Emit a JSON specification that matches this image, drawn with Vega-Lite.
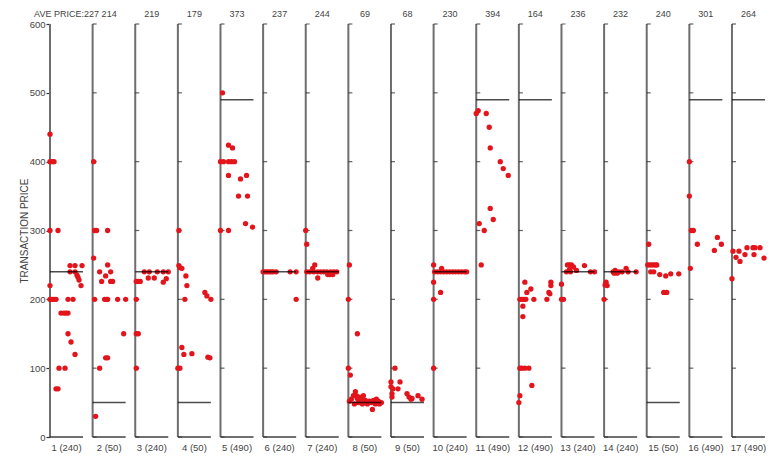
{
  "$schema": "https://vega.github.io/schema/vega-lite/v6.json",
  "width": 715,
  "height": 413,
  "autosize": {"type": "none"},
  "padding": {"left": 50, "top": 24, "right": 13, "bottom": 21},
  "background": "white",
  "config": {"view": {"stroke": null}, "font": "Liberation Sans"},
  "datasets": {
    "panels": [
      {"panel": 1, "ref": 240, "name": "1 (240)", "ave": "AVE PRICE:227", "ticks": [0, 100, 200, 300, 400, 500, 600]},
      {"panel": 2, "ref": 50, "name": "2 (50)", "ave": "214", "ticks": [0, 100, 200, 300, 400, 500, 600]},
      {"panel": 3, "ref": 240, "name": "3 (240)", "ave": "219", "ticks": [0, 100, 200, 300, 400, 500, 600]},
      {"panel": 4, "ref": 50, "name": "4 (50)", "ave": "179", "ticks": [0, 100, 200, 300, 400, 500, 600]},
      {"panel": 5, "ref": 490, "name": "5 (490)", "ave": "373", "ticks": [0, 100, 200, 300, 400, 500, 600]},
      {"panel": 6, "ref": 240, "name": "6 (240)", "ave": "237", "ticks": [0, 100, 200, 300, 400, 500, 600]},
      {"panel": 7, "ref": 240, "name": "7 (240)", "ave": "244", "ticks": [0, 100, 200, 300, 400, 500, 600]},
      {"panel": 8, "ref": 50, "name": "8 (50)", "ave": "69", "ticks": [0, 100, 200, 300, 400, 500, 600]},
      {"panel": 9, "ref": 50, "name": "9 (50)", "ave": "68", "ticks": [0, 100, 200, 300, 400, 500, 600]},
      {"panel": 10, "ref": 240, "name": "10 (240)", "ave": "230", "ticks": [0, 100, 200, 300, 400, 500, 600]},
      {"panel": 11, "ref": 490, "name": "11 (490)", "ave": "394", "ticks": [0, 100, 200, 300, 400, 500, 600]},
      {"panel": 12, "ref": 490, "name": "12 (490)", "ave": "164", "ticks": [0, 100, 200, 300, 400, 500, 600]},
      {"panel": 13, "ref": 240, "name": "13 (240)", "ave": "236", "ticks": [0, 100, 200, 300, 400, 500, 600]},
      {"panel": 14, "ref": 240, "name": "14 (240)", "ave": "232", "ticks": [0, 100, 200, 300, 400, 500, 600]},
      {"panel": 15, "ref": 50, "name": "15 (50)", "ave": "240", "ticks": [0, 100, 200, 300, 400, 500, 600]},
      {"panel": 16, "ref": 490, "name": "16 (490)", "ave": "301", "ticks": [0, 100, 200, 300, 400, 500, 600]},
      {"panel": 17, "ref": 490, "name": "17 (490)", "ave": "264", "ticks": [0, 100, 200, 300, 400, 500, 600]}
    ],
    "points": [
      {"panel": 1, "pos": 0, "price": 440}, {"panel": 1, "pos": 0, "price": 400}, {"panel": 1, "pos": 2, "price": 400}, {"panel": 1, "pos": 4, "price": 400},
      {"panel": 1, "pos": 0, "price": 300}, {"panel": 1, "pos": 8, "price": 300}, {"panel": 1, "pos": 20, "price": 249}, {"panel": 1, "pos": 25, "price": 249},
      {"panel": 1, "pos": 32, "price": 249}, {"panel": 1, "pos": 20, "price": 240}, {"panel": 1, "pos": 25, "price": 240}, {"panel": 1, "pos": 27, "price": 235},
      {"panel": 1, "pos": 28, "price": 232}, {"panel": 1, "pos": 29, "price": 228}, {"panel": 1, "pos": 31, "price": 220}, {"panel": 1, "pos": 0, "price": 220},
      {"panel": 1, "pos": 0, "price": 200}, {"panel": 1, "pos": 2, "price": 200}, {"panel": 1, "pos": 4, "price": 200}, {"panel": 1, "pos": 6, "price": 200},
      {"panel": 1, "pos": 18, "price": 200}, {"panel": 1, "pos": 23, "price": 200}, {"panel": 1, "pos": 11, "price": 180}, {"panel": 1, "pos": 14, "price": 180},
      {"panel": 1, "pos": 16, "price": 180}, {"panel": 1, "pos": 18, "price": 180}, {"panel": 1, "pos": 18, "price": 150}, {"panel": 1, "pos": 21, "price": 138},
      {"panel": 1, "pos": 25, "price": 120}, {"panel": 1, "pos": 9, "price": 100}, {"panel": 1, "pos": 15, "price": 100}, {"panel": 1, "pos": 6, "price": 70},
      {"panel": 1, "pos": 8, "price": 70},
      {"panel": 2, "pos": 1, "price": 400}, {"panel": 2, "pos": 2, "price": 300}, {"panel": 2, "pos": 4, "price": 300}, {"panel": 2, "pos": 15, "price": 300},
      {"panel": 2, "pos": 1, "price": 260}, {"panel": 2, "pos": 15, "price": 250}, {"panel": 2, "pos": 7, "price": 240}, {"panel": 2, "pos": 18, "price": 240},
      {"panel": 2, "pos": 13, "price": 234}, {"panel": 2, "pos": 9, "price": 226}, {"panel": 2, "pos": 18, "price": 226}, {"panel": 2, "pos": 20, "price": 226},
      {"panel": 2, "pos": 2, "price": 200}, {"panel": 2, "pos": 12, "price": 200}, {"panel": 2, "pos": 14, "price": 200}, {"panel": 2, "pos": 15, "price": 200},
      {"panel": 2, "pos": 25, "price": 200}, {"panel": 2, "pos": 33, "price": 200}, {"panel": 2, "pos": 31, "price": 150}, {"panel": 2, "pos": 13, "price": 115},
      {"panel": 2, "pos": 15, "price": 115}, {"panel": 2, "pos": 7, "price": 100}, {"panel": 2, "pos": 3, "price": 30},
      {"panel": 3, "pos": 9, "price": 240}, {"panel": 3, "pos": 14, "price": 240}, {"panel": 3, "pos": 22, "price": 240}, {"panel": 3, "pos": 28, "price": 240},
      {"panel": 3, "pos": 33, "price": 240}, {"panel": 3, "pos": 13, "price": 231}, {"panel": 3, "pos": 19, "price": 231}, {"panel": 3, "pos": 1, "price": 226},
      {"panel": 3, "pos": 3, "price": 226}, {"panel": 3, "pos": 5, "price": 226}, {"panel": 3, "pos": 28, "price": 225}, {"panel": 3, "pos": 31, "price": 230},
      {"panel": 3, "pos": 1, "price": 200}, {"panel": 3, "pos": 1, "price": 150}, {"panel": 3, "pos": 3, "price": 150}, {"panel": 3, "pos": 1, "price": 100},
      {"panel": 4, "pos": 1, "price": 300}, {"panel": 4, "pos": 1, "price": 249}, {"panel": 4, "pos": 2, "price": 246}, {"panel": 4, "pos": 4, "price": 245},
      {"panel": 4, "pos": 8, "price": 234}, {"panel": 4, "pos": 9, "price": 220}, {"panel": 4, "pos": 7, "price": 200}, {"panel": 4, "pos": 33, "price": 200},
      {"panel": 4, "pos": 27, "price": 210}, {"panel": 4, "pos": 29, "price": 205}, {"panel": 4, "pos": 4, "price": 130}, {"panel": 4, "pos": 6, "price": 120},
      {"panel": 4, "pos": 14, "price": 121}, {"panel": 4, "pos": 30, "price": 116}, {"panel": 4, "pos": 32, "price": 115}, {"panel": 4, "pos": 0, "price": 100},
      {"panel": 4, "pos": 2, "price": 100},
      {"panel": 5, "pos": 2, "price": 500}, {"panel": 5, "pos": 8, "price": 424}, {"panel": 5, "pos": 12, "price": 420}, {"panel": 5, "pos": 0, "price": 400},
      {"panel": 5, "pos": 3, "price": 400}, {"panel": 5, "pos": 8, "price": 400}, {"panel": 5, "pos": 11, "price": 400}, {"panel": 5, "pos": 14, "price": 400},
      {"panel": 5, "pos": 8, "price": 380}, {"panel": 5, "pos": 26, "price": 380}, {"panel": 5, "pos": 20, "price": 375}, {"panel": 5, "pos": 18, "price": 350},
      {"panel": 5, "pos": 27, "price": 350}, {"panel": 5, "pos": 25, "price": 310}, {"panel": 5, "pos": 32, "price": 305}, {"panel": 5, "pos": 0, "price": 300},
      {"panel": 5, "pos": 8, "price": 300},
      {"panel": 6, "pos": 0, "price": 240}, {"panel": 6, "pos": 2, "price": 240}, {"panel": 6, "pos": 4, "price": 240}, {"panel": 6, "pos": 6, "price": 240},
      {"panel": 6, "pos": 8, "price": 240}, {"panel": 6, "pos": 10, "price": 240}, {"panel": 6, "pos": 13, "price": 240}, {"panel": 6, "pos": 27, "price": 240},
      {"panel": 6, "pos": 33, "price": 240}, {"panel": 6, "pos": 33, "price": 200},
      {"panel": 7, "pos": 0, "price": 300}, {"panel": 7, "pos": 1, "price": 280}, {"panel": 7, "pos": 9, "price": 250}, {"panel": 7, "pos": 7, "price": 245},
      {"panel": 7, "pos": 1, "price": 240}, {"panel": 7, "pos": 4, "price": 240}, {"panel": 7, "pos": 8, "price": 240}, {"panel": 7, "pos": 12, "price": 240},
      {"panel": 7, "pos": 15, "price": 240}, {"panel": 7, "pos": 18, "price": 240}, {"panel": 7, "pos": 21, "price": 240}, {"panel": 7, "pos": 25, "price": 240},
      {"panel": 7, "pos": 28, "price": 240}, {"panel": 7, "pos": 31, "price": 240}, {"panel": 7, "pos": 22, "price": 236}, {"panel": 7, "pos": 24, "price": 236},
      {"panel": 7, "pos": 27, "price": 236}, {"panel": 7, "pos": 12, "price": 231},
      {"panel": 8, "pos": 1, "price": 250}, {"panel": 8, "pos": 0, "price": 200}, {"panel": 8, "pos": 9, "price": 150}, {"panel": 8, "pos": 0, "price": 100},
      {"panel": 8, "pos": 2, "price": 90}, {"panel": 8, "pos": 1, "price": 52}, {"panel": 8, "pos": 3, "price": 55}, {"panel": 8, "pos": 5, "price": 60},
      {"panel": 8, "pos": 7, "price": 66}, {"panel": 8, "pos": 8, "price": 60}, {"panel": 8, "pos": 9, "price": 56}, {"panel": 8, "pos": 10, "price": 50},
      {"panel": 8, "pos": 11, "price": 58}, {"panel": 8, "pos": 12, "price": 52}, {"panel": 8, "pos": 13, "price": 55}, {"panel": 8, "pos": 15, "price": 60},
      {"panel": 8, "pos": 16, "price": 50}, {"panel": 8, "pos": 17, "price": 53}, {"panel": 8, "pos": 19, "price": 48}, {"panel": 8, "pos": 21, "price": 52},
      {"panel": 8, "pos": 23, "price": 50}, {"panel": 8, "pos": 24, "price": 40}, {"panel": 8, "pos": 25, "price": 53}, {"panel": 8, "pos": 26, "price": 50},
      {"panel": 8, "pos": 27, "price": 48}, {"panel": 8, "pos": 28, "price": 55}, {"panel": 8, "pos": 30, "price": 52}, {"panel": 8, "pos": 31, "price": 48},
      {"panel": 8, "pos": 33, "price": 50}, {"panel": 8, "pos": 6, "price": 48}, {"panel": 8, "pos": 14, "price": 48},
      {"panel": 9, "pos": 4, "price": 100}, {"panel": 9, "pos": 0, "price": 80}, {"panel": 9, "pos": 9, "price": 80}, {"panel": 9, "pos": 0, "price": 73},
      {"panel": 9, "pos": 2, "price": 70}, {"panel": 9, "pos": 7, "price": 70}, {"panel": 9, "pos": 1, "price": 63}, {"panel": 9, "pos": 16, "price": 63},
      {"panel": 9, "pos": 1, "price": 58}, {"panel": 9, "pos": 18, "price": 58}, {"panel": 9, "pos": 21, "price": 56}, {"panel": 9, "pos": 27, "price": 60},
      {"panel": 9, "pos": 20, "price": 55}, {"panel": 9, "pos": 31, "price": 55},
      {"panel": 10, "pos": 0, "price": 250}, {"panel": 10, "pos": 8, "price": 245}, {"panel": 10, "pos": 1, "price": 240}, {"panel": 10, "pos": 4, "price": 240},
      {"panel": 10, "pos": 7, "price": 240}, {"panel": 10, "pos": 10, "price": 240}, {"panel": 10, "pos": 13, "price": 240}, {"panel": 10, "pos": 16, "price": 240},
      {"panel": 10, "pos": 19, "price": 240}, {"panel": 10, "pos": 22, "price": 240}, {"panel": 10, "pos": 25, "price": 240}, {"panel": 10, "pos": 28, "price": 240},
      {"panel": 10, "pos": 31, "price": 240}, {"panel": 10, "pos": 33, "price": 240}, {"panel": 10, "pos": 0, "price": 225}, {"panel": 10, "pos": 7, "price": 210},
      {"panel": 10, "pos": 0, "price": 200}, {"panel": 10, "pos": 0, "price": 100},
      {"panel": 11, "pos": 2, "price": 474}, {"panel": 11, "pos": 0, "price": 470}, {"panel": 11, "pos": 10, "price": 470}, {"panel": 11, "pos": 13, "price": 450},
      {"panel": 11, "pos": 14, "price": 420}, {"panel": 11, "pos": 24, "price": 400}, {"panel": 11, "pos": 27, "price": 390}, {"panel": 11, "pos": 32, "price": 380},
      {"panel": 11, "pos": 14, "price": 332}, {"panel": 11, "pos": 17, "price": 316}, {"panel": 11, "pos": 3, "price": 310}, {"panel": 11, "pos": 8, "price": 300},
      {"panel": 11, "pos": 5, "price": 250},
      {"panel": 12, "pos": 6, "price": 225}, {"panel": 12, "pos": 32, "price": 225}, {"panel": 12, "pos": 32, "price": 220}, {"panel": 12, "pos": 12, "price": 215},
      {"panel": 12, "pos": 8, "price": 210}, {"panel": 12, "pos": 30, "price": 210}, {"panel": 12, "pos": 31, "price": 208}, {"panel": 12, "pos": 1, "price": 200},
      {"panel": 12, "pos": 3, "price": 200}, {"panel": 12, "pos": 5, "price": 200}, {"panel": 12, "pos": 7, "price": 200}, {"panel": 12, "pos": 15, "price": 200},
      {"panel": 12, "pos": 28, "price": 200}, {"panel": 12, "pos": 4, "price": 190}, {"panel": 12, "pos": 4, "price": 175}, {"panel": 12, "pos": 1, "price": 100},
      {"panel": 12, "pos": 3, "price": 100}, {"panel": 12, "pos": 6, "price": 100}, {"panel": 12, "pos": 10, "price": 100}, {"panel": 12, "pos": 13, "price": 75},
      {"panel": 12, "pos": 1, "price": 60}, {"panel": 12, "pos": 0, "price": 50},
      {"panel": 13, "pos": 6, "price": 250}, {"panel": 13, "pos": 8, "price": 250}, {"panel": 13, "pos": 10, "price": 250}, {"panel": 13, "pos": 12, "price": 247},
      {"panel": 13, "pos": 23, "price": 249}, {"panel": 13, "pos": 8, "price": 243}, {"panel": 13, "pos": 15, "price": 242}, {"panel": 13, "pos": 5, "price": 240},
      {"panel": 13, "pos": 9, "price": 240}, {"panel": 13, "pos": 29, "price": 240}, {"panel": 13, "pos": 33, "price": 240}, {"panel": 13, "pos": 0, "price": 222},
      {"panel": 13, "pos": 0, "price": 200}, {"panel": 13, "pos": 2, "price": 200},
      {"panel": 14, "pos": 9, "price": 240}, {"panel": 14, "pos": 12, "price": 240}, {"panel": 14, "pos": 15, "price": 240}, {"panel": 14, "pos": 18, "price": 240},
      {"panel": 14, "pos": 24, "price": 240}, {"panel": 14, "pos": 32, "price": 240}, {"panel": 14, "pos": 10, "price": 238}, {"panel": 14, "pos": 13, "price": 238},
      {"panel": 14, "pos": 22, "price": 245}, {"panel": 14, "pos": 11, "price": 242}, {"panel": 14, "pos": 2, "price": 225}, {"panel": 14, "pos": 1, "price": 221},
      {"panel": 14, "pos": 3, "price": 220}, {"panel": 14, "pos": 0, "price": 200},
      {"panel": 15, "pos": 2, "price": 280}, {"panel": 15, "pos": 1, "price": 250}, {"panel": 15, "pos": 3, "price": 250}, {"panel": 15, "pos": 5, "price": 250},
      {"panel": 15, "pos": 7, "price": 250}, {"panel": 15, "pos": 9, "price": 250}, {"panel": 15, "pos": 10, "price": 250}, {"panel": 15, "pos": 4, "price": 240},
      {"panel": 15, "pos": 7, "price": 240}, {"panel": 15, "pos": 13, "price": 236}, {"panel": 15, "pos": 19, "price": 234}, {"panel": 15, "pos": 24, "price": 237},
      {"panel": 15, "pos": 32, "price": 237}, {"panel": 15, "pos": 17, "price": 210}, {"panel": 15, "pos": 20, "price": 210},
      {"panel": 16, "pos": 0, "price": 400}, {"panel": 16, "pos": 0, "price": 350}, {"panel": 16, "pos": 2, "price": 300}, {"panel": 16, "pos": 4, "price": 300},
      {"panel": 16, "pos": 8, "price": 280}, {"panel": 16, "pos": 1, "price": 245}, {"panel": 16, "pos": 28, "price": 290}, {"panel": 16, "pos": 32, "price": 280},
      {"panel": 16, "pos": 25, "price": 271},
      {"panel": 17, "pos": 0, "price": 230}, {"panel": 17, "pos": 1, "price": 270}, {"panel": 17, "pos": 7, "price": 270}, {"panel": 17, "pos": 4, "price": 261},
      {"panel": 17, "pos": 8, "price": 255}, {"panel": 17, "pos": 13, "price": 265}, {"panel": 17, "pos": 22, "price": 265}, {"panel": 17, "pos": 15, "price": 275},
      {"panel": 17, "pos": 21, "price": 275}, {"panel": 17, "pos": 23, "price": 275}, {"panel": 17, "pos": 28, "price": 275}, {"panel": 17, "pos": 32, "price": 260}
    ]
  },
  "layer": [
    {
      "data": {"name": "panels"},
      "mark": {"type": "rule", "color": "#6e6e6e", "strokeWidth": 2},
      "encoding": {
        "x": {"field": "panel", "type": "ordinal", "bandPosition": 0, "scale": {"type": "band", "paddingInner": 0.225, "paddingOuter": 0}, "axis": null},
        "y": {"datum": 0, "type": "quantitative", "scale": {"domain": [0, 600], "nice": false},
              "axis": {"title": "TRANSACTION PRICE", "values": [0, 100, 200, 300, 400, 500, 600], "grid": false, "domain": false,
                       "tickSize": 4, "tickColor": "#333333", "tickWidth": 1.2, "labelFontSize": 9.5, "labelColor": "#444444", "labelPadding": 1,
                       "titleFontSize": 10, "titleFontWeight": "normal", "titleColor": "#444444", "titlePadding": 0}},
        "y2": {"datum": 600}
      }
    },
    {
      "data": {"name": "panels"},
      "transform": [{"filter": "datum.panel > 1"}, {"flatten": ["ticks"]}],
      "mark": {"type": "tick", "orient": "horizontal", "size": 4, "thickness": 1.2, "xOffset": -14.5, "color": "#222222"},
      "encoding": {
        "x": {"field": "panel", "type": "ordinal"},
        "y": {"field": "ticks", "type": "quantitative"}
      }
    },
    {
      "data": {"name": "panels"},
      "mark": {"type": "tick", "orient": "horizontal", "size": 33, "thickness": 2, "color": "#333333"},
      "encoding": {
        "x": {"field": "panel", "type": "ordinal"},
        "y": {"datum": 0, "type": "quantitative"}
      }
    },
    {
      "data": {"name": "points"},
      "mark": {"type": "circle", "size": 28, "color": "#e3141b", "opacity": 1},
      "encoding": {
        "x": {"field": "panel", "type": "ordinal", "bandPosition": 0},
        "xOffset": {"field": "pos", "type": "quantitative", "scale": {"domain": [0, 33], "nice": false, "zero": false}},
        "y": {"field": "price", "type": "quantitative"}
      }
    },
    {
      "data": {"name": "panels"},
      "mark": {"type": "tick", "orient": "horizontal", "size": 33, "thickness": 1.5, "color": "#000000"},
      "encoding": {
        "x": {"field": "panel", "type": "ordinal"},
        "y": {"field": "ref", "type": "quantitative"}
      }
    },
    {
      "data": {"name": "panels"},
      "mark": {"type": "text", "fontSize": 9, "color": "#444444", "baseline": "middle", "dy": -10},
      "encoding": {
        "x": {"field": "panel", "type": "ordinal"},
        "y": {"datum": 600, "type": "quantitative"},
        "text": {"field": "ave"}
      }
    },
    {
      "data": {"name": "panels"},
      "mark": {"type": "text", "fontSize": 9.5, "color": "#444444", "baseline": "middle", "dy": 11},
      "encoding": {
        "x": {"field": "panel", "type": "ordinal"},
        "y": {"datum": 0, "type": "quantitative"},
        "text": {"field": "name"}
      }
    }
  ]
}
